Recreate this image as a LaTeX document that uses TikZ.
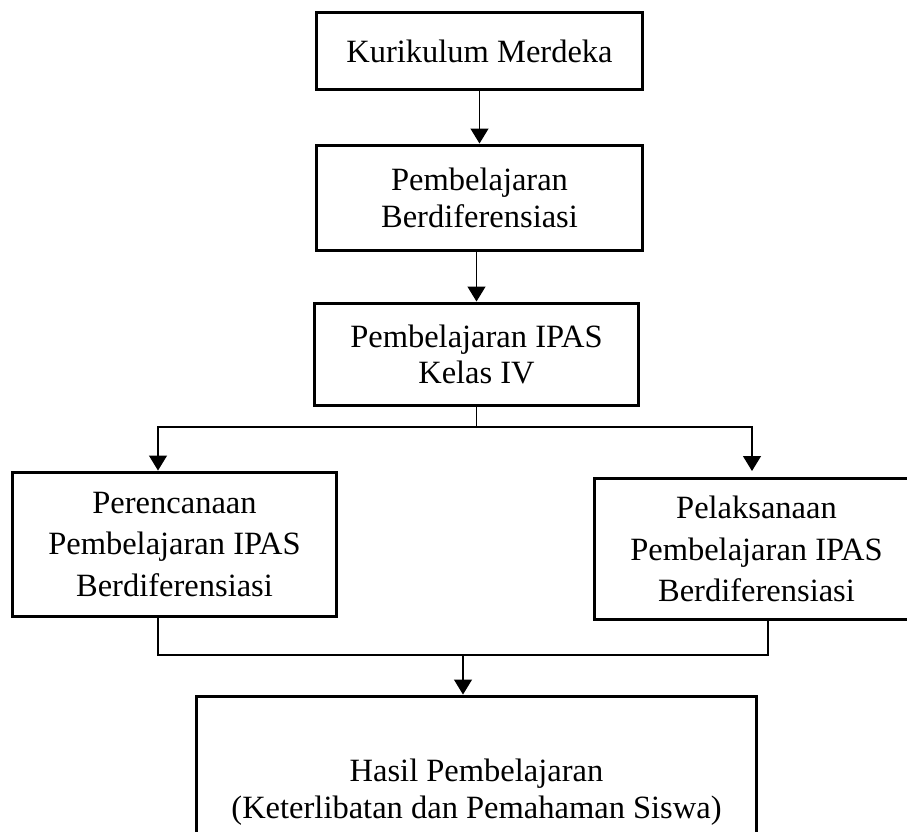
\documentclass[tikz,border=0pt]{standalone}
\usepackage{fontspec}
\setmainfont{Liberation Serif}
\usetikzlibrary{arrows.meta,positioning}

\begin{document}
\begin{tikzpicture}[x=0.02cm, y=-0.02cm, >={Triangle[length=0.3cm,width=0.36cm]}, line width=0.25mm,
   box/.style={draw, line width=0.6mm, align=center, inner sep=0pt, font=\fontsize{18.5}{21}\selectfont},
   tallbox/.style={box, font=\fontsize{18.5}{23.5}\selectfont}]

   % frame of the page (boxes on the right and bottom run off it)
   \path[clip, use as bounding box] (0,0) rectangle (907,832);
   \fill[white] (0,0) rectangle (907,832);

   % boxes
   \node[box, minimum width=6.54cm, minimum height=1.56cm] (kurikulum) at (479.5,51) {Kurikulum Merdeka};
   \node[box, minimum width=6.54cm, minimum height=2.12cm] (diferensiasi) at (479.5,198) {Pembelajaran\\Berdiferensiasi};
   \node[box, minimum width=6.5cm, minimum height=2.06cm] (ipas) at (476.5,354.5) {Pembelajaran IPAS\\Kelas IV};
   \node[tallbox, minimum width=6.5cm, minimum height=2.9cm] (perencanaan) at (174.5,544.5) {Perencanaan\\Pembelajaran IPAS\\Berdiferensiasi};
   \node[tallbox, minimum width=6.5cm, minimum height=2.84cm] (pelaksanaan) at (756.5,549) {Pelaksanaan\\Pembelajaran IPAS\\Berdiferensiasi};
   \node[box, minimum width=11.22cm, minimum height=3.84cm] (hasil) at (476.5,792) {Hasil Pembelajaran\\(Keterlibatan dan Pemahaman Siswa)};

   % helper points
   \coordinate (split) at (476.5,427);
   \coordinate (leftdrop) at (158,427);
   \coordinate (rightend) at (752,471);
   \coordinate (merge) at (463,655);
   \coordinate (rightrise) at (768,655);

   % connectors
   \draw[->] (kurikulum.south) -- (diferensiasi.north);
   \draw[->] (diferensiasi.south -| ipas.north) -- (ipas.north);
   \draw (ipas.south) -- (split);
   \draw[->] (split) -| (leftdrop |- perencanaan.north);
   \draw[->] (split) -| (rightend);
   \draw (leftdrop |- perencanaan.south) |- (merge);
   \draw (rightrise |- pelaksanaan.south) |- (merge);
   \draw[->] (merge) -- (merge |- hasil.north);

\end{tikzpicture}
\end{document}
